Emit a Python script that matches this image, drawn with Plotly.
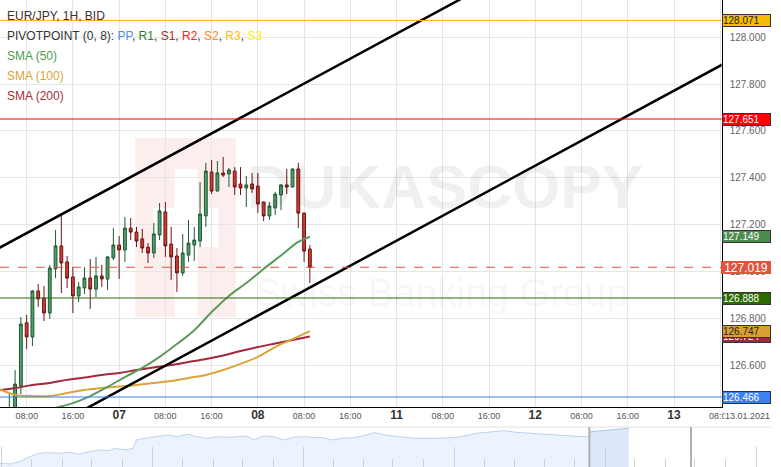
import plotly.graph_objects as go

W, H = 781, 467

def px(x):
    return x / W

def py(y):
    return 1 - y / H

# ---------------- data ----------------
# trading-hour index counted from 06.01 00:00 (weekend removed: 11.01 00:00 = 72)
hours = [5, 6, 7, 8, 9, 10, 11, 12, 13, 14, 15, 16, 17, 18, 19, 20, 21, 22, 23, 24,
         25, 26, 27, 28, 29, 30, 31, 32, 33, 34, 35, 36, 37, 38, 39, 40, 41, 42, 43, 44,
         45, 46, 47, 48, 49, 50, 51, 52, 53, 54, 55, 56, 57]

open_ = [126.395, 126.405, 126.513, 126.782, 126.722, 126.918, 126.888, 126.824, 127.012, 127.110,
         127.042, 126.978, 126.897, 126.931, 126.973, 126.926, 126.982, 126.969, 127.059, 127.114,
         127.093, 127.186, 127.169, 127.140, 127.105, 127.080, 127.157, 127.255, 127.118, 127.067,
         126.995, 127.071, 127.114, 127.131, 127.238, 127.425, 127.344, 127.421, 127.417, 127.429,
         127.374, 127.357, 127.374, 127.365, 127.297, 127.238, 127.272, 127.327, 127.370, 127.361,
         127.438, 127.250, 127.097]
high = [126.479, 126.581, 126.807, 126.816, 126.922, 126.948, 126.939, 127.029, 127.178, 127.242,
        127.067, 127.020, 126.956, 127.020, 127.054, 127.063, 127.029, 127.067, 127.186, 127.152,
        127.233, 127.229, 127.191, 127.182, 127.122, 127.208, 127.293, 127.297, 127.191, 127.101,
        127.161, 127.221, 127.191, 127.382, 127.464, 127.476, 127.472, 127.489, 127.442, 127.446,
        127.446, 127.408, 127.421, 127.421, 127.299, 127.297, 127.340, 127.372, 127.438, 127.440,
        127.464, 127.252, 127.114]
low = [126.370, 126.390, 126.479, 126.671, 126.683, 126.850, 126.790, 126.799, 126.973, 126.909,
       126.931, 126.824, 126.871, 126.905, 126.841, 126.892, 126.935, 126.922, 127.050, 126.969,
       127.042, 127.135, 127.105, 127.080, 127.037, 127.059, 127.135, 127.063, 126.965, 126.914,
       126.982, 127.042, 127.046, 127.105, 127.191, 127.331, 127.342, 127.404, 127.361, 127.327,
       127.327, 127.276, 127.336, 127.250, 127.216, 127.221, 127.242, 127.263, 127.331, 127.359,
       127.186, 127.042, 126.952]
close = [126.418, 126.521, 126.777, 126.722, 126.918, 126.884, 126.824, 127.016, 127.110, 127.037,
         126.973, 126.897, 126.935, 126.973, 126.926, 126.982, 126.969, 127.063, 127.114, 127.093,
         127.186, 127.169, 127.131, 127.101, 127.080, 127.161, 127.259, 127.110, 127.063, 126.995,
         127.080, 127.122, 127.135, 127.246, 127.429, 127.344, 127.421, 127.412, 127.434, 127.361,
         127.357, 127.370, 127.353, 127.289, 127.238, 127.280, 127.331, 127.370, 127.361, 127.438,
         127.250, 127.088, 127.019]

sma50_t = [11, 13, 16, 19, 22, 25, 28, 31, 34, 37, 40, 43, 46, 49, 52, 55, 57]
sma50 = [126.405, 126.419, 126.440, 126.470, 126.509, 126.551, 126.590, 126.637, 126.692,
         126.751, 126.828, 126.897, 126.952, 127.012, 127.069, 127.127, 127.149]

sma100_t = [3, 4, 6, 9, 12, 15, 18, 21, 24, 27, 30, 33, 36, 39, 42, 45, 48, 51, 54, 57]
sma100 = [126.504, 126.492, 126.475, 126.470, 126.470, 126.483, 126.496, 126.504, 126.511, 126.517,
          126.526, 126.534, 126.547, 126.560, 126.581, 126.607, 126.637, 126.679, 126.713, 126.747]

sma200_t = [3, 6, 9, 12, 15, 18, 21, 24, 27, 30, 33, 36, 39, 42, 45, 48, 51, 54, 57]
sma200 = [126.494, 126.504, 126.517, 126.526, 126.539, 126.549, 126.560, 126.568, 126.581, 126.592,
          126.602, 126.615, 126.628, 126.643, 126.662, 126.679, 126.694, 126.709, 126.724]

# channel lines (hand drawn on the chart)
upper_t = [3, 90]
upper_p = [127.098, 128.254]
lower_t = [15, 130]
lower_p = [126.373, 127.905]

# pivot levels and last price
R3, R2, R1, PP = 128.071, 127.651, 126.888, 126.466
last_price = 127.019

# axis ticks
tick_t = [8, 16, 24, 32, 40, 48, 56, 64, 72, 80, 88, 96, 104, 112, 120, 128]
tick_lbl = ["08:00", "16:00", "07", "08:00", "16:00", "08", "08:00", "16:00",
            "11", "08:00", "16:00", "12", "08:00", "16:00", "13", "08:00"]
y_ticks = [126.6, 126.8, 127.0, 127.2, 127.4, 127.6, 127.8, 128.0]

# navigator (overview) series
nav_t = [0, 10, 20, 30, 40, 50, 60, 70, 80, 90, 100, 110, 117, 127, 135, 138, 150, 160, 170, 180,
         190, 200, 210, 220, 230, 240, 250, 257, 267, 277, 287, 297, 307, 317, 327, 337, 347, 357,
         367, 380, 390, 403, 423, 443, 463, 483, 497, 510, 523, 537, 550, 563, 577, 590, 597]
nav_v = [3.7, 3.0, 5.3, 10.3, 13.7, 14.3, 13.7, 14.7, 12.7, 15.3, 17.0, 16.3, 18.7, 17.0, 18.7, 27.0,
         29.3, 31.0, 32.0, 30.3, 32.7, 30.3, 28.7, 30.3, 29.7, 30.3, 31.0, 27.0, 31.0, 30.3, 27.0,
         29.7, 30.3, 29.7, 29.3, 27.0, 28.7, 29.3, 31.0, 34.3, 32.0, 30.3, 28.7, 28.7, 29.7, 33.7,
         34.7, 36.3, 34.7, 33.7, 32.7, 32.0, 31.3, 30.3, 30.3]
navsel_t = [597, 598, 610, 623, 637]
navsel_v = [30.3, 35.3, 36.3, 37.7, 38.7]

FONT = "Liberation Sans, Arial, sans-serif"

fig = go.Figure()

# pink logo watermark (decoration)
shapes = []
shapes.append(dict(type="rect", xref="paper", yref="paper", x0=px(137), x1=px(239), y0=py(317), y1=py(138),
                   fillcolor="#fdeeee", line=dict(width=0), layer="below"))
for (a, b, c, d) in [(177, 169, 200, 208), (155, 208, 221, 247), (177, 247, 200, 317)]:
    shapes.append(dict(type="rect", xref="paper", yref="paper", x0=px(a), x1=px(c), y0=py(d), y1=py(b),
                       fillcolor="white", line=dict(width=0), layer="below"))

# SMA lines
fig.add_trace(go.Scatter(x=sma200_t, y=sma200, mode="lines", line=dict(color="#a3283a", width=2, shape="spline"),
                         hoverinfo="skip", showlegend=False))
fig.add_trace(go.Scatter(x=sma100_t, y=sma100, mode="lines", line=dict(color="#dba33a", width=2, shape="spline"),
                         hoverinfo="skip", showlegend=False))
fig.add_trace(go.Scatter(x=sma50_t, y=sma50, mode="lines", line=dict(color="#5b9a5b", width=2, shape="spline"),
                         hoverinfo="skip", showlegend=False))

# candles
fig.add_trace(go.Candlestick(
    x=hours, open=open_, high=high, low=low, close=close,
    increasing=dict(line=dict(color="#1d5a30", width=1), fillcolor="#4f9d6c"),
    decreasing=dict(line=dict(color="#6e1414", width=1), fillcolor="#cf3d2c"),
    whiskerwidth=0, showlegend=False, hoverinfo="skip"))

# channel
fig.add_trace(go.Scatter(x=upper_t, y=upper_p, mode="lines", line=dict(color="black", width=2.5),
                         hoverinfo="skip", showlegend=False))
fig.add_trace(go.Scatter(x=lower_t, y=lower_p, mode="lines", line=dict(color="black", width=2.5),
                         hoverinfo="skip", showlegend=False))

# navigator
fig.add_trace(go.Scatter(x=nav_t, y=nav_v, mode="lines", xaxis="x3", yaxis="y3", fill="tozeroy",
                         fillcolor="#edf3fd", line=dict(color="#b9d3f3", width=1),
                         hoverinfo="skip", showlegend=False))
fig.add_trace(go.Scatter(x=navsel_t, y=navsel_v, mode="lines", xaxis="x3", yaxis="y3", fill="tozeroy",
                         fillcolor="#dde9fb", line=dict(color="#a9c8f0", width=1),
                         hoverinfo="skip", showlegend=False))

# horizontal levels
for lvl, col, dash in [(R3, "#f3b21c", "solid"), (R2, "#ff0000", "solid"), (R1, "#2b6a12", "solid"),
                       (PP, "#3b7fe6", "solid"), (last_price, "#e8503a", "dash")]:
    shapes.append(dict(type="line", xref="x domain", yref="y", x0=0, x1=1, y0=lvl, y1=lvl,
                       line=dict(color=col, width=1, dash=dash), layer="above"))

# navigator decorations
shapes.append(dict(type="line", xref="paper", yref="paper", x0=0, x1=1, y0=py(427), y1=py(427),
                   line=dict(color="#e2e2e2", width=1)))
for xv in [597, 700]:
    shapes.append(dict(type="line", xref="x3", yref="paper", x0=xv, x1=xv, y0=0, y1=py(427),
                       line=dict(color="#b0b0b0", width=2)))

ann = []
# legend texts
legend_rows = [
    ("EUR/JPY, 1H, BID", 15.5),
    ("PIVOTPOINT (0, 8): <span style='color:#4a8fe8'>PP</span>, <span style='color:#2e7d32'>R1</span>, "
     "<span style='color:#b02a2a'>S1</span>, <span style='color:#ff2020'>R2</span>, "
     "<span style='color:#ff8a1a'>S2</span>, <span style='color:#ffc000'>R3</span>, "
     "<span style='color:#fff000'>S3</span>", 35.5),
    ("<span style='color:#4f9a4f'>SMA (50)</span>", 56),
    ("<span style='color:#d9a43a'>SMA (100)</span>", 76),
    ("<span style='color:#a3303c'>SMA (200)</span>", 96),
]
for txt, yy in legend_rows:
    ann.append(dict(x=px(5), y=py(yy), xref="paper", yref="paper", xanchor="left", yanchor="middle",
                    text=txt, showarrow=False, font=dict(family=FONT, size=12, color="#333")))

# watermark text
ann.append(dict(x=px(451), y=py(186), xref="paper", yref="paper", xanchor="center", yanchor="middle",
                text="<b>DUKASCOPY</b>", showarrow=False,
                font=dict(family=FONT, size=62, color="rgba(0,0,0,0.06)")))
ann.append(dict(x=px(447), y=py(292), xref="paper", yref="paper", xanchor="center", yanchor="middle",
                text="Swiss Banking Group", showarrow=False,
                font=dict(family=FONT, size=39, color="rgba(0,0,0,0.05)")))

# price boxes on the right axis
boxes = [
    (R3, "#f5bd00", "#222", "#333"),
    (R2, "#ff0000", "white", "#333"),
    (sma50[-1], "#4e8c4e", "white", "#333"),
    (R1, "#2b6a00", "white", "#333"),
    (sma200[-1], "#a3283a", "white", "#333"),
    (sma100[-1], "#d9a033", "#222", "#333"),
    (PP, "#3b82f0", "white", "#333"),
]
for val, bg, fc, bc in boxes:
    ann.append(dict(x=px(731), y=val, xref="paper", yref="y", xanchor="left", yanchor="middle",
                    text=f"{val:.3f}", showarrow=False, bgcolor=bg, bordercolor=bc, borderwidth=1,
                    borderpad=0, width=47, height=11, align="left",
                    font=dict(family=FONT, size=10, color=fc)))
ann.append(dict(x=px(730), y=last_price, xref="paper", yref="y", xanchor="left", yanchor="middle",
                text=f"{last_price:.3f}", showarrow=False, bgcolor="#e0553f", borderwidth=0,
                borderpad=0, width=50, height=13, align="center",
                font=dict(family=FONT, size=12, color="white")))

# date label at the right end of the time axis
ann.append(dict(x=px(733), y=py(416), xref="paper", yref="paper", xanchor="left", yanchor="middle",
                text="13.01.2021", showarrow=False, bgcolor="white", borderpad=0,
                font=dict(family=FONT, size=9, color="#555")))

tick_text = []
for t in tick_lbl:
    if ":" in t:
        tick_text.append(t)
    else:
        tick_text.append(f"<b><span style='font-size:12px;color:#333'>{t}</span></b>")

fig.update_layout(
    width=W, height=H, autosize=False,
    margin=dict(l=0, r=0, t=0, b=0, pad=0),
    paper_bgcolor="white", plot_bgcolor="white",
    showlegend=False,
    shapes=shapes, annotations=ann,
    xaxis=dict(domain=[0, px(731)], range=[3.39, 128.24], anchor="y",
               tickmode="array", tickvals=tick_t, ticktext=tick_text,
               showgrid=True, gridcolor="#e6e6e6", gridwidth=1, zeroline=False,
               showline=True, linecolor="black", linewidth=1, ticks="",
               tickfont=dict(family=FONT, size=9, color="#555"),
               rangeslider=dict(visible=False), fixedrange=True),
    yaxis=dict(domain=[py(407), 1], range=[126.4234, 128.1583], anchor="x", side="right",
               tickmode="array", tickvals=y_ticks, ticktext=[f"{v:.3f}" for v in y_ticks],
               showgrid=True, gridcolor="#e6e6e6", gridwidth=1, zeroline=False,
               showline=True, linecolor="black", linewidth=1, ticks="",
               ticklabelstandoff=5,
               tickfont=dict(family=FONT, size=10, color="#666"), fixedrange=True),
    xaxis3=dict(domain=[0, 1], range=[0, 781], anchor="y3", showgrid=False, zeroline=False,
                showticklabels=False, showline=False,
                ticks="inside", tickmode="array", tickvals=[1.7, 154.7, 307.3, 460, 613, 766],
                ticklen=20, tickcolor="#d0d0d0", tickwidth=1,
                minor=dict(ticks="inside", tickmode="array",
                           tickvals=[32, 63, 93, 124, 185, 216, 246, 277, 338, 368, 398, 429,
                                     491, 521, 552, 582, 643, 674, 704, 735],
                           ticklen=8, tickcolor="#d0d0d0", tickwidth=1, showgrid=False),
                fixedrange=True),
    yaxis3=dict(domain=[0, py(427)], range=[0, 40], anchor="x3", visible=False, fixedrange=True),
)

post = ("document.documentElement.style.overflow='hidden';"
        "document.body.style.margin='0px';document.body.style.padding='0px';"
        "document.body.style.overflow='hidden';")

fig.write_html("out.html", config={"responsive": False, "displayModeBar": False}, post_script=post)
